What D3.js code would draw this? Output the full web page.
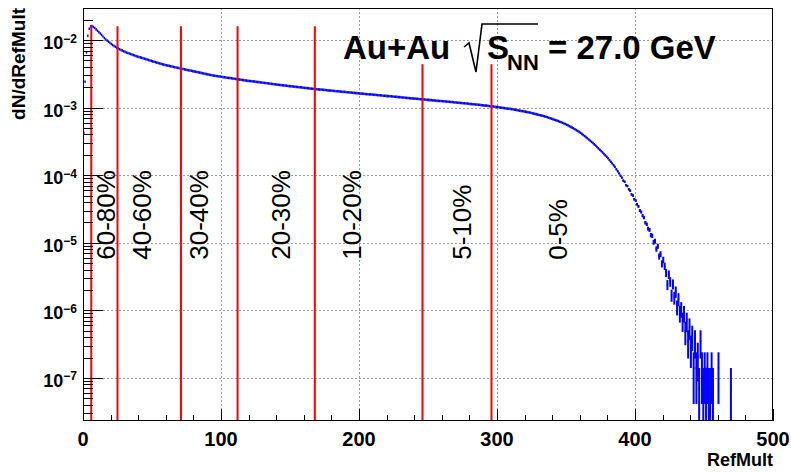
<!DOCTYPE html>
<html><head><meta charset="utf-8">
<script src="https://cdn.jsdelivr.net/npm/d3@7"></script>
<style>
body{margin:0;background:#fff}
svg{display:block}
text{font-family:"Liberation Sans",Arial,Helvetica,sans-serif}
</style>
</head><body><svg id="c" width="791" height="473"></svg>
<script>
// dN/dRefMult per RefMult bin (bin width 1), bins 0..424
const dNdRefMult = [
4.24e-4,2.41e-3,6.58e-3,1.16e-2,1.47e-2,1.59e-2,1.61e-2,1.56e-2,1.51e-2,1.44e-2,
1.37e-2,1.31e-2,1.25e-2,1.19e-2,1.13e-2,1.07e-2,1.02e-2,9.79e-3,9.44e-3,9.08e-3,
8.75e-3,8.43e-3,8.18e-3,7.94e-3,7.71e-3,7.48e-3,7.31e-3,7.14e-3,7.00e-3,6.84e-3,
6.68e-3,6.53e-3,6.43e-3,6.31e-3,6.21e-3,6.10e-3,6.00e-3,5.89e-3,5.79e-3,5.70e-3,
5.62e-3,5.53e-3,5.46e-3,5.37e-3,5.30e-3,5.21e-3,5.14e-3,5.06e-3,4.99e-3,4.91e-3,
4.84e-3,4.78e-3,4.71e-3,4.63e-3,4.57e-3,4.51e-3,4.45e-3,4.38e-3,4.32e-3,4.27e-3,
4.23e-3,4.18e-3,4.14e-3,4.09e-3,4.06e-3,4.01e-3,3.96e-3,3.93e-3,3.88e-3,3.85e-3,
3.80e-3,3.77e-3,3.72e-3,3.69e-3,3.65e-3,3.61e-3,3.57e-3,3.54e-3,3.51e-3,3.47e-3,
3.44e-3,3.40e-3,3.37e-3,3.33e-3,3.30e-3,3.27e-3,3.23e-3,3.20e-3,3.16e-3,3.13e-3,
3.10e-3,3.07e-3,3.04e-3,3.01e-3,2.98e-3,2.96e-3,2.94e-3,2.92e-3,2.90e-3,2.88e-3,
2.86e-3,2.83e-3,2.81e-3,2.79e-3,2.77e-3,2.75e-3,2.74e-3,2.72e-3,2.70e-3,2.68e-3,
2.66e-3,2.64e-3,2.62e-3,2.60e-3,2.58e-3,2.56e-3,2.55e-3,2.53e-3,2.51e-3,2.49e-3,
2.48e-3,2.47e-3,2.45e-3,2.44e-3,2.42e-3,2.40e-3,2.39e-3,2.38e-3,2.36e-3,2.35e-3,
2.33e-3,2.32e-3,2.31e-3,2.29e-3,2.28e-3,2.26e-3,2.25e-3,2.23e-3,2.22e-3,2.21e-3,
2.19e-3,2.18e-3,2.17e-3,2.15e-3,2.14e-3,2.13e-3,2.12e-3,2.11e-3,2.09e-3,2.08e-3,
2.07e-3,2.06e-3,2.05e-3,2.04e-3,2.03e-3,2.02e-3,2.00e-3,2.00e-3,1.99e-3,1.97e-3,
1.96e-3,1.95e-3,1.94e-3,1.93e-3,1.92e-3,1.91e-3,1.90e-3,1.89e-3,1.88e-3,1.87e-3,
1.86e-3,1.85e-3,1.85e-3,1.84e-3,1.83e-3,1.82e-3,1.81e-3,1.80e-3,1.79e-3,1.79e-3,
1.78e-3,1.77e-3,1.76e-3,1.75e-3,1.75e-3,1.74e-3,1.73e-3,1.72e-3,1.71e-3,1.71e-3,
1.70e-3,1.69e-3,1.68e-3,1.67e-3,1.67e-3,1.66e-3,1.65e-3,1.64e-3,1.64e-3,1.63e-3,
1.62e-3,1.61e-3,1.61e-3,1.60e-3,1.59e-3,1.58e-3,1.58e-3,1.57e-3,1.57e-3,1.56e-3,
1.55e-3,1.55e-3,1.54e-3,1.53e-3,1.52e-3,1.52e-3,1.51e-3,1.50e-3,1.50e-3,1.49e-3,
1.48e-3,1.48e-3,1.47e-3,1.47e-3,1.46e-3,1.45e-3,1.45e-3,1.44e-3,1.43e-3,1.43e-3,
1.42e-3,1.41e-3,1.41e-3,1.40e-3,1.39e-3,1.39e-3,1.38e-3,1.37e-3,1.37e-3,1.36e-3,
1.36e-3,1.35e-3,1.35e-3,1.34e-3,1.33e-3,1.33e-3,1.32e-3,1.32e-3,1.31e-3,1.30e-3,
1.30e-3,1.29e-3,1.29e-3,1.28e-3,1.28e-3,1.27e-3,1.26e-3,1.26e-3,1.25e-3,1.25e-3,
1.24e-3,1.24e-3,1.23e-3,1.23e-3,1.22e-3,1.22e-3,1.21e-3,1.21e-3,1.20e-3,1.19e-3,
1.19e-3,1.18e-3,1.18e-3,1.17e-3,1.17e-3,1.16e-3,1.16e-3,1.15e-3,1.15e-3,1.14e-3,
1.13e-3,1.13e-3,1.12e-3,1.12e-3,1.11e-3,1.11e-3,1.10e-3,1.10e-3,1.09e-3,1.08e-3,
1.08e-3,1.07e-3,1.07e-3,1.06e-3,1.05e-3,1.05e-3,1.04e-3,1.04e-3,1.03e-3,1.02e-3,
1.02e-3,1.01e-3,1.00e-3,9.95e-4,9.89e-4,9.82e-4,9.75e-4,9.68e-4,9.64e-4,9.57e-4,
9.51e-4,9.44e-4,9.35e-4,9.27e-4,9.18e-4,9.10e-4,9.02e-4,8.93e-4,8.87e-4,8.79e-4,
8.71e-4,8.63e-4,8.55e-4,8.47e-4,8.38e-4,8.26e-4,8.17e-4,8.07e-4,7.98e-4,7.87e-4,
7.78e-4,7.69e-4,7.60e-4,7.50e-4,7.41e-4,7.33e-4,7.21e-4,7.08e-4,6.97e-4,6.86e-4,
6.75e-4,6.62e-4,6.52e-4,6.41e-4,6.31e-4,6.19e-4,6.08e-4,5.96e-4,5.83e-4,5.71e-4,
5.58e-4,5.45e-4,5.31e-4,5.18e-4,5.05e-4,4.92e-4,4.78e-4,4.63e-4,4.50e-4,4.37e-4,
4.24e-4,4.08e-4,3.94e-4,3.79e-4,3.66e-4,3.52e-4,3.38e-4,3.24e-4,3.11e-4,2.99e-4,
2.86e-4,2.74e-4,2.61e-4,2.49e-4,2.38e-4,2.28e-4,2.17e-4,2.06e-4,1.96e-4,1.87e-4,
1.78e-4,1.67e-4,1.58e-4,1.49e-4,1.40e-4,1.32e-4,1.22e-4,1.14e-4,1.06e-4,9.82e-5,
9.20e-5,8.30e-5,8.00e-5,7.10e-5,6.90e-5,6.20e-5,5.90e-5,5.20e-5,5.00e-5,4.40e-5,
4.20e-5,3.70e-5,3.45e-5,3.00e-5,2.85e-5,2.51e-5,2.35e-5,1.98e-5,1.88e-5,1.62e-5,
1.55e-5,1.30e-5,1.27e-5,1.02e-5,1.06e-5,8.10e-6,8.90e-6,6.30e-6,6.80e-6,4.90e-6,
5.60e-6,4.50e-6,3.60e-6,2.40e-6,3.40e-6
];
// raw event counts in the tail, bins 425..470
const tailCounts = [
38,24,35,22,27,16,21,13,15,10,
13,7,10,5,8,4,6,2,5,2,
3,1,5,2,1,2,1,2,1,1,
2,1,0,0,0,2,0,0,0,0,
0,0,0,0,1,0
];
const tailFirstBin = 425;
const countScale = 7.0e-8;          // dN/dRefMult per single event

const cutEdges = [6, 25, 71, 112, 168, 246, 296];
const cutTops  = [1.6e-2, 1.6e-2, 1.6e-2, 1.6e-2, 1.6e-2, 4.4e-3, 4.4e-3];
const centralityLabels = ["60-80%","40-60%","30-40%","20-30%","10-20%","5-10%","0-5%"];
const labelRefMult = [23.2, 49.3, 90.6, 150, 201.4, 281.2, 350.7];
const labelStart = 5.6e-6;

const xTicks = [0,100,200,300,400,500];
const yDecades = [-7,-6,-5,-4,-3,-2];
const xDomain = [0, 500];
const yDomain = [2.3e-8, 0.0298];

// ---- build histogram records
const hist = [];
dNdRefMult.forEach((v,i)=>hist.push({bin:i, v}));
tailCounts.forEach((n,i)=>hist.push({bin:tailFirstBin+i, v:n*countScale}));

const svg = d3.select("#c");
const L=83, R=773, T=8, B=421;
const x = d3.scaleLinear().domain(xDomain).range([L,R]);
const y = d3.scaleLog().domain(yDomain).range([B,T]);

svg.append("rect").attr("width",791).attr("height",473).attr("fill","#fff");

// grid
const grid = svg.append("g").attr("stroke","#9a9a9a").attr("stroke-width",1).attr("stroke-dasharray","2,2");
xTicks.filter(t=>t>xDomain[0]&&t<xDomain[1]).forEach(t=>{
  grid.append("line").attr("x1",Math.round(x(t))+0.5).attr("x2",Math.round(x(t))+0.5).attr("y1",T).attr("y2",B);
});
yDecades.forEach(d=>{
  const yy=Math.round(y(Math.pow(10,d)))+0.5;
  grid.append("line").attr("x1",L).attr("x2",R).attr("y1",yy).attr("y2",yy);
});

// histogram
svg.append("defs").append("clipPath").attr("id","clip").append("rect")
  .attr("x",L).attr("y",T).attr("width",R-L).attr("height",B-T);
const hg = svg.append("g").attr("clip-path","url(#clip)").attr("stroke","#0000ff");
hist.filter(d=>d.v>0).forEach(d=>{
  const x0=x(d.bin), x1=x(d.bin+1), xc=(x0+x1)/2;
  const e=Math.sqrt(d.v*countScale);
  const lo=d.v-e>yDomain[0]? y(d.v-e): B+2;
  hg.append("line").attr("x1",xc).attr("x2",xc).attr("y1",y(d.v+e)).attr("y2",lo).attr("stroke-width",2);
  hg.append("line").attr("x1",x0).attr("x2",x1).attr("y1",y(d.v)).attr("y2",y(d.v)).attr("stroke-width",2.6);
});

// centrality cut lines
const cg = svg.append("g").attr("stroke","#ff0000").attr("stroke-width",2);
cutEdges.forEach((c,i)=>{
  cg.append("line").attr("x1",x(c)).attr("x2",x(c)).attr("y1",y(cutTops[i])).attr("y2",B);
});

// frame
svg.append("rect").attr("x",L+0.5).attr("y",T+0.5).attr("width",R-L-1).attr("height",B-T-1)
  .attr("fill","none").attr("stroke","#000").attr("stroke-width",1);

// x ticks
const ax = svg.append("g").attr("stroke","#000").attr("stroke-width",1);
d3.range(0,501,20).forEach(t=>{
  const major = t%100===0;
  const xx=Math.round(x(t))+0.5;
  ax.append("line").attr("x1",xx).attr("x2",xx).attr("y1",B).attr("y2",B-(major?12:6));
});
// y ticks (major at decades, minor at 2..9)
yDecades.concat([-8]).forEach(d=>{
  for(let m=1;m<=9;m++){
    const v=m*Math.pow(10,d);
    if(v<yDomain[0]||v>yDomain[1]) continue;
    const yy=Math.round(y(v))+0.5;
    ax.append("line").attr("x1",L).attr("x2",L+(m===1?20:10)).attr("y1",yy).attr("y2",yy);
  }
});

// x tick labels
svg.append("g").selectAll("text").data(xTicks).join("text")
  .attr("x",d=>x(d)).attr("y",446).attr("text-anchor","middle")
  .attr("font-size",20).attr("font-weight","bold").text(d=>d);

// y tick labels
yDecades.forEach(d=>{
  const t = svg.append("text").attr("x",77).attr("y",y(Math.pow(10,d))+9)
    .attr("text-anchor","end").attr("font-weight","bold").attr("font-size",18);
  t.append("tspan").text("10");
  t.append("tspan").attr("font-size",12).attr("dy",-6.5).text("\u2212"+Math.abs(d));
});

// axis titles
svg.append("text").attr("x",R).attr("y",466).attr("text-anchor","end")
  .attr("font-weight","bold").attr("font-size",18).text("RefMult");
svg.append("text").attr("transform",`translate(25,${T}) rotate(-90)`).attr("text-anchor","end")
  .attr("font-weight","bold").attr("font-size",19).text("dN/dRefMult");

// centrality labels
centralityLabels.forEach((s,i)=>{
  svg.append("text").attr("transform",`translate(${x(labelRefMult[i])},${y(labelStart)}) rotate(-90)`)
    .attr("font-size",26).attr("fill","#000").text(s);
});

// title: Au+Au sqrt(s_NN) = 27.0 GeV
const tg = svg.append("g").attr("font-weight","bold");
tg.append("text").attr("x",343).attr("y",59).attr("font-size",33).text("Au+Au");
tg.append("path").attr("d","M464,47 L469,43 L476,72 L482,24 L538,24")
  .attr("fill","none").attr("stroke","#000").attr("stroke-width",1.6);
tg.append("text").attr("x",487).attr("y",59).attr("font-size",33).text("S");
tg.append("text").attr("x",507).attr("y",70).attr("font-size",22).text("NN");
tg.append("text").attr("x",548).attr("y",59).attr("font-size",33).text("= 27.0 GeV");
</script></body></html>
